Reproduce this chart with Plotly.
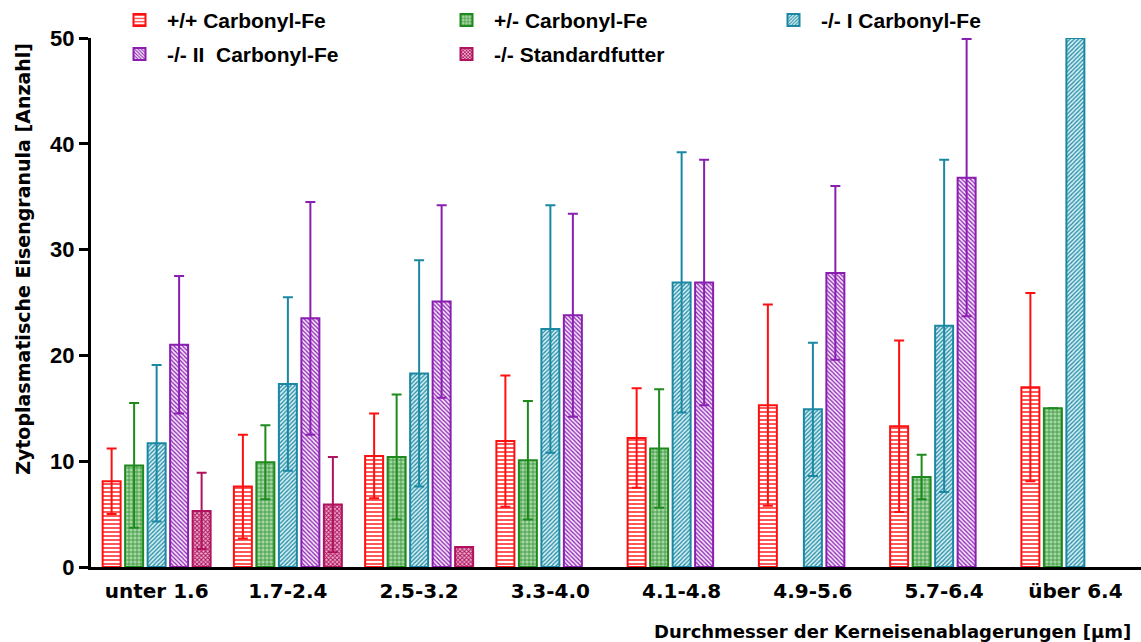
import plotly.graph_objects as go

categories = ["unter 1.6", "1.7-2.4", "2.5-3.2", "3.3-4.0", "4.1-4.8", "4.9-5.6", "5.7-6.4", "über 6.4"]

wt_carbonyl = [8.1, 7.6, 10.5, 11.9, 12.2, 15.3, 13.3, 17.0]
wt_carbonyl_err = [3.1, 4.9, 4.0, 6.2, 4.7, 9.5, 8.1, 8.9]

het_carbonyl = [9.6, 9.9, 10.4, 10.1, 11.2, None, 8.5, 15.0]
het_carbonyl_err = [5.9, 3.5, 5.9, 5.6, 5.6, None, 2.1, 0]

ko1_carbonyl = [11.7, 17.3, 18.3, 22.5, 26.9, 14.9, 22.8, 50.0]
ko1_carbonyl_err = [7.4, 8.2, 10.7, 11.7, 12.3, 6.3, 15.7, 0]

ko2_carbonyl = [21.0, 23.5, 25.1, 23.8, 26.9, 27.8, 36.8, None]
ko2_carbonyl_err = [6.5, 11.0, 9.1, 9.6, 11.6, 8.2, 13.1, None]

ko_standard = [5.3, 5.9, 1.9, None, None, None, None, None]
ko_standard_err = [3.6, 4.5, 0, None, None, None, None, None]

y_ticks = [0, 10, 20, 30, 40, 50]

# name, values, errors, colour, pattern, background, pattern size, solidity, legend
series = [
    ("+/+ Carbonyl-Fe", wt_carbonyl, wt_carbonyl_err, "#FF1010", "-", "#ffffff", 4, 0.35, "legend"),
    ("+/- Carbonyl-Fe", het_carbonyl, het_carbonyl_err, "#1E8A1E", "+", "#a6d6a6", 4, 0.3, "legend"),
    ("-/- I Carbonyl-Fe", ko1_carbonyl, ko1_carbonyl_err, "#1A88A2", "/", "#d6eef3", 3, 0.4, "legend"),
    ("-/- II  Carbonyl-Fe", ko2_carbonyl, ko2_carbonyl_err, "#8A1EB0", "\\", "#f4e6fa", 3, 0.4, "legend2"),
    ("-/- Standardfutter", ko_standard, ko_standard_err, "#B0125E", "x", "#eab0cc", 3, 0.55, "legend2"),
]

ARIAL = "Liberation Sans, Arial, Helvetica, sans-serif"
WIDE = "DejaVu Sans, Verdana, sans-serif"

fig = go.Figure()
for name, vals, errs, col, shape, bg, size, sol, leg in series:
    fig.add_trace(go.Bar(
        name=name,
        x=categories,
        y=vals,
        legend=leg,
        marker=dict(
            color=bg,
            line=dict(color=col, width=2),
            pattern=dict(shape=shape, fgcolor=col, bgcolor=bg, size=size,
                         solidity=sol, fillmode="replace"),
        ),
        error_y=dict(type="data", array=errs, symmetric=True, visible=True,
                     color=col, thickness=2, width=5),
    ))

legend_common = dict(
    orientation="h", xanchor="left", yanchor="top",
    entrywidth=267, entrywidthmode="pixels", itemwidth=45,
    font=dict(family=ARIAL, size=21, color="black", weight="bold"),
    traceorder="normal", bgcolor="rgba(0,0,0,0)",
)

fig.update_layout(
    width=1141, height=642,
    margin=dict(l=91, r=0, t=38, b=75, autoexpand=False),
    plot_bgcolor="white", paper_bgcolor="white",
    barmode="group", bargap=0.143, bargroupgap=0.2,
    font=dict(family=ARIAL, color="black"),
    showlegend=True,
    legend=dict(x=0.020, y=1.072, **legend_common),
    legend2=dict(x=0.020, y=1.008, **legend_common),
    xaxis=dict(
        showline=True, linecolor="black", linewidth=3, ticks="",
        tickfont=dict(family=WIDE, size=20, color="black", weight="bold"),
        ticklabelstandoff=4,
        showgrid=False, zeroline=False,
    ),
    yaxis=dict(
        range=[0, 50], tickvals=y_ticks, showline=True, linecolor="black", linewidth=3,
        ticks="outside", ticklen=9, tickwidth=3, tickcolor="black",
        tickfont=dict(family=ARIAL, size=22, color="black", weight="bold"),
        showgrid=False, zeroline=False,
    ),
    annotations=[
        dict(text="Zytoplasmatische Eisengranula [Anzahl]", xref="paper", yref="paper",
             x=-0.065, y=0.582, xanchor="center", yanchor="middle", textangle=-90,
             showarrow=False, font=dict(family=WIDE, size=19, color="black", weight="bold")),
        dict(text="Durchmesser der Kerneisenablagerungen [µm]", xref="paper", yref="paper",
             x=0.992, y=-0.121, xanchor="right", yanchor="middle",
             showarrow=False, font=dict(family=WIDE, size=18, color="black", weight="bold")),
    ],
)

fig.write_html(
    "out.html",
    config={"displayModeBar": False},
    post_script="document.body.style.margin='0';document.body.style.overflow='hidden';",
)
